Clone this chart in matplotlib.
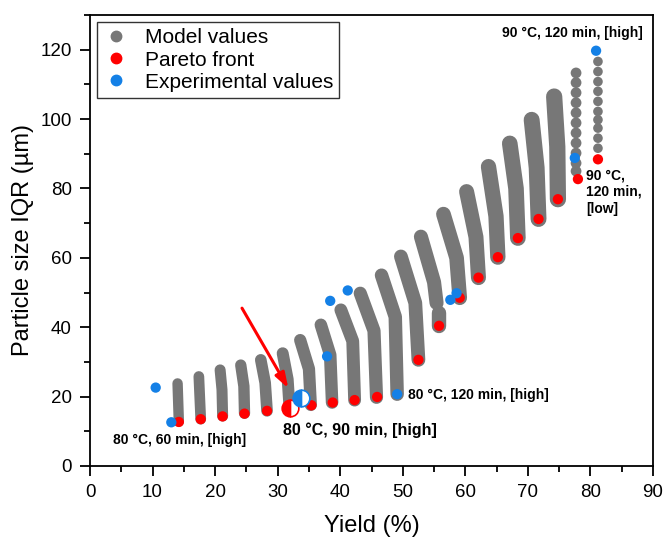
import matplotlib
matplotlib.use("Agg")
import matplotlib.pyplot as plt
from matplotlib.lines import Line2D
from matplotlib.ticker import MultipleLocator

plt.rcParams['font.family'] = ['Liberation Sans', 'DejaVu Sans']

# ---------------- data ----------------
# Model-value bands: each band is a polyline (x, y) from top to bottom
band_x = [
    [14.0, 14.2],
    [17.4, 17.7],
    [20.8, 21.1, 21.2],
    [24.1, 24.6, 24.7],
    [27.3, 28.0, 28.3],
    [30.8, 31.6, 31.9],
    [33.6, 35.0, 35.3],
    [36.9, 38.4, 38.7],
    [40.1, 42.0, 42.3],
    [43.2, 45.4, 45.8],
    [46.6, 48.8, 49.1],
    [49.7, 52.0, 52.5],
    [52.9, 55.0, 55.4],
    [55.8, 55.8],
    [56.5, 58.6, 59.1],
    [60.2, 61.7, 62.1],
    [63.7, 64.9, 65.2],
    [67.1, 68.1, 68.4],
    [70.6, 71.4, 71.7],
    [74.2, 74.7, 74.8],
]
band_y = [
    [23.8, 12.8],
    [25.8, 13.5],
    [27.7, 22.0, 14.4],
    [29.1, 23.0, 15.2],
    [30.6, 24.0, 15.9],
    [32.5, 25.0, 16.6],
    [36.3, 28.0, 17.6],
    [40.7, 32.0, 18.3],
    [45.0, 36.0, 19.0],
    [49.8, 39.0, 19.8],
    [55.0, 43.0, 20.7],
    [60.4, 47.0, 30.6],
    [66.1, 53.0, 47.0],
    [44.0, 40.4],
    [72.6, 60.0, 48.5],
    [79.1, 66.0, 54.3],
    [86.3, 72.0, 60.2],
    [93.0, 80.0, 65.7],
    [99.8, 86.0, 71.2],
    [106.5, 92.0, 76.9],
]
# Discrete model-value dot columns (right end)
dotcol_x = [77.7, 81.2]
dotcol_y = [
    [85.0, 87.3, 90.2, 93.1, 96.0, 98.9, 101.8, 104.7, 107.6, 110.5, 113.3],
    [91.6, 94.5, 97.4, 99.8, 102.2, 105.1, 108.0, 110.8, 113.7, 116.6],
]

pareto_x = [14.2, 17.7, 21.2, 24.7, 28.3, 35.4, 38.8, 42.3, 45.9, 52.5,
            55.8, 59.1, 62.1, 65.2, 68.4, 71.7, 74.8, 78.0, 81.2]
pareto_y = [12.7, 13.5, 14.3, 15.1, 15.9, 17.5, 18.3, 19.0, 19.9, 30.6,
            40.4, 48.5, 54.3, 60.2, 65.7, 71.2, 76.9, 82.7, 88.4]

exp_x = [10.5, 13.0, 37.9, 38.4, 41.2, 49.1, 57.6, 58.6, 77.5, 80.9]
exp_y = [22.6, 12.6, 31.6, 47.6, 50.6, 20.7, 47.9, 49.8, 88.8, 119.7]

# highlighted (half-filled) points
sel_pareto = (31.9, 16.6)
sel_exp = (33.8, 19.5)

xticks = [0, 10, 20, 30, 40, 50, 60, 70, 80, 90]
yticks = [0, 20, 40, 60, 80, 100, 120]

gray = '#777777'
red = '#ff0000'
blue = '#1480e6'

fig = plt.figure(figsize=(6.64, 5.38), dpi=100)
ax = fig.add_axes([90/664, 72/538, 563/664, 451/538])

for i, (bx, by) in enumerate(zip(band_x, band_y)):
    ax.plot(bx, by, color=gray, lw=7.5 + 0.22 * i, solid_capstyle='round',
            solid_joinstyle='round', zorder=2)
ax.scatter([dotcol_x[0]] * len(dotcol_y[0]), dotcol_y[0], s=60, color=gray,
           edgecolors='none', zorder=2)
ax.scatter([dotcol_x[1]] * len(dotcol_y[1]), dotcol_y[1], s=48, color=gray,
           edgecolors='none', zorder=2)

ax.scatter(pareto_x, pareto_y, s=55, color=red, edgecolors='none', zorder=3)
ax.scatter(exp_x, exp_y, s=55, color=blue, edgecolors='none', zorder=4)

ax.plot([sel_pareto[0]], [sel_pareto[1]], marker='o', ms=12, fillstyle='left',
        markerfacecolor=red, markerfacecoloralt='white', markeredgecolor=red,
        markeredgewidth=1.2, zorder=5, ls='none')
ax.plot([sel_exp[0]], [sel_exp[1]], marker='o', ms=12, fillstyle='left',
        markerfacecolor=blue, markerfacecoloralt='white', markeredgecolor=blue,
        markeredgewidth=1.2, zorder=5, ls='none')

# arrow
ax.annotate('', xy=(31.7, 22.4), xytext=(24.3, 45.5),
            arrowprops=dict(arrowstyle='-|>,head_length=0.9,head_width=0.3',
                            color=red, lw=2.2, shrinkA=0, shrinkB=0), zorder=6)

# annotations
ax.text(3.7, 7.5, '80 °C, 60 min, [high]', fontsize=10, fontweight='bold',
        ha='left', va='center')
ax.text(30.8, 10.4, '80 °C, 90 min, [high]', fontsize=11.5, fontweight='bold',
        ha='left', va='center')
ax.text(50.8, 20.6, '80 °C, 120 min, [high]', fontsize=10, fontweight='bold',
        ha='left', va='center')
ax.text(88.3, 124.9, '90 °C, 120 min, [high]', fontsize=10, fontweight='bold',
        ha='right', va='center')
ax.text(79.3, 79.0, '90 °C,\n120 min,\n[low]', fontsize=10, fontweight='bold',
        ha='left', va='center', linespacing=1.25)

ax.set_xlim(0, 90)
ax.set_ylim(0, 130)
ax.set_xticks(xticks)
ax.set_yticks(yticks)
ax.xaxis.set_minor_locator(MultipleLocator(5))
ax.yaxis.set_minor_locator(MultipleLocator(10))
ax.tick_params(which='major', direction='out', length=7, width=1.3,
               labelsize=13.5, pad=6)
ax.tick_params(which='minor', direction='out', length=4, width=1.3)
for s in ax.spines.values():
    s.set_linewidth(1.3)

ax.set_xlabel('Yield (%)', fontsize=17, labelpad=10)
ax.set_ylabel('Particle size IQR (µm)', fontsize=17, labelpad=5)

handles = [
    Line2D([], [], marker='o', ls='none', color=gray, ms=7.5),
    Line2D([], [], marker='o', ls='none', color=red, ms=7.5),
    Line2D([], [], marker='o', ls='none', color=blue, ms=7.5),
]
leg = ax.legend(handles, ['Model values', 'Pareto front', 'Experimental values'],
                loc='upper left', bbox_to_anchor=(0.012, 0.984), borderaxespad=0,
                fontsize=15, frameon=True, fancybox=False, edgecolor='#333333',
                framealpha=1, labelspacing=0.15, handlelength=1.2,
                handletextpad=0.8, borderpad=0.3)
leg.get_frame().set_linewidth(1.0)

fig.savefig('out.png', dpi=100)
